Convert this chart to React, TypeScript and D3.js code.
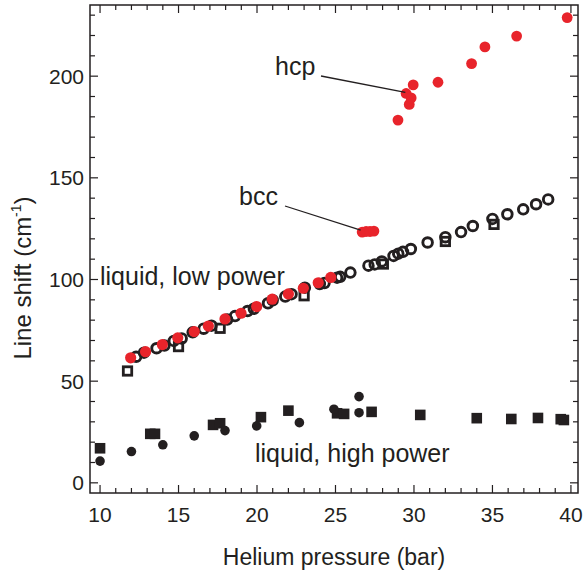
import React from "react";
import * as d3 from "d3";

// ---- data (pressure in bar, line shift in cm^-1) ----
const hcpPoints: [number, number][] = [
  [28.98, 178.4], [29.5, 191.5], [29.7, 186.1], [29.82, 189.3], [29.95, 195.7],
  [31.53, 197.0], [33.67, 206.2], [34.52, 214.4], [36.54, 219.7], [39.76, 228.8],
];
const bccPoints: [number, number][] = [
  [26.7, 123.3], [26.95, 123.6], [27.2, 123.6], [27.45, 123.8],
];
const redLowPower: [number, number][] = [
  [11.95, 61.5], [12.9, 64.5], [13.97, 68.0], [14.95, 71.3], [16.0, 74.4],
  [16.9, 77.1], [17.96, 80.6], [18.98, 83.4], [19.98, 86.7], [20.97, 90.3],
  [22.0, 92.9], [22.95, 95.7], [23.9, 98.4], [24.7, 101.0],
];
const openCircleLowPower: [number, number][] = [
  [12.3, 62.0], [12.8, 64.0], [13.6, 66.2], [14.1, 67.5], [14.7, 69.8],
  [15.2, 71.0], [15.9, 74.0], [16.6, 75.8], [17.1, 77.3], [18.1, 80.3],
  [18.6, 82.0], [19.4, 84.5], [19.8, 85.6], [20.7, 88.3], [21.0, 89.8],
  [21.8, 91.6], [22.2, 92.8], [23.05, 96.0], [24.0, 97.8], [24.3, 98.3],
  [25.1, 100.9], [25.3, 101.3], [25.95, 103.4], [27.1, 106.8], [27.5, 107.4],
  [27.95, 108.9], [28.7, 111.6], [29.0, 112.7], [29.3, 113.6], [29.8, 115.0],
  [30.87, 118.2], [32.0, 120.8], [33.0, 123.3], [33.75, 126.3], [35.0, 129.8],
  [35.95, 132.1], [36.96, 134.5], [37.78, 137.0], [38.55, 139.4],
];
const openSquareLowPower: [number, number][] = [
  [11.75, 55.0], [15.0, 67.0], [17.65, 76.0], [23.0, 92.0],
  [28.05, 107.6], [32.0, 118.7], [35.1, 127.1],
];
const filledSquareHighPower: [number, number][] = [
  [10.0, 17.0], [13.2, 24.1], [13.5, 24.1], [17.2, 28.5], [17.65, 29.3],
  [20.25, 32.3], [22.0, 35.5], [25.1, 34.2], [25.55, 33.9], [27.3, 34.9],
  [30.4, 33.4], [34.0, 31.8], [36.2, 31.4], [37.9, 31.9], [39.35, 31.3], [39.55, 30.9],
];
const filledCircleHighPower: [number, number][] = [
  [10.0, 10.7], [12.0, 15.4], [14.0, 18.7], [16.0, 23.1], [17.96, 25.7],
  [19.98, 28.0], [22.7, 29.6], [24.9, 36.2], [26.5, 42.4], [26.5, 34.5],
];
const xTickValues = [10, 15, 20, 25, 30, 35, 40];
const yTickValues = [0, 50, 100, 150, 200];

const W = 583, H = 573;
const L = 90, R = 578, T = 5, B = 493;
const INK = "#231f20";
const RED = "#e8242b";
const FONT = "'Liberation Sans', Arial, Helvetica, sans-serif";

export default function App() {
  const x = d3.scaleLinear().domain([9.36, 40.45]).range([L, R]);
  const y = d3.scaleLinear().domain([-5, 235]).range([B, T]);

  const xMinor = d3.range(10, 41, 1);
  const yMinor = d3.range(0, 231, 10);

  const ticks: JSX.Element[] = [];
  xMinor.forEach((v) => {
    const len = v % 5 === 0 ? 8 : 5;
    const px = x(v);
    ticks.push(<line key={"xb" + v} x1={px} x2={px} y1={B} y2={B - len} stroke={INK} strokeWidth={1.2} />);
    ticks.push(<line key={"xt" + v} x1={px} x2={px} y1={T} y2={T + len} stroke={INK} strokeWidth={1.2} />);
  });
  yMinor.forEach((v) => {
    const len = v % 50 === 0 ? 8 : 5;
    const py = y(v);
    ticks.push(<line key={"yl" + v} x1={L} x2={L + len} y1={py} y2={py} stroke={INK} strokeWidth={1.2} />);
    ticks.push(<line key={"yr" + v} x1={R} x2={R - len} y1={py} y2={py} stroke={INK} strokeWidth={1.2} />);
  });

  return (
    <div style={{ position: "absolute", left: 0, top: 0 }}>
      <svg width={W} height={H} style={{ display: "block", background: "#fff" }} fontFamily={FONT}>
        <rect x={0} y={0} width={W} height={H} fill="#fff" />
        {ticks}
        <rect x={L} y={T} width={R - L} height={B - T} fill="none" stroke={INK} strokeWidth={1.5} />

        {xTickValues.map((v) => (
          <text key={"xl" + v} x={x(v)} y={522} textAnchor="middle" fontSize={21} fill={INK}>{v}</text>
        ))}
        {yTickValues.map((v) => (
          <text key={"ylab" + v} x={84} y={y(v) + 7.5} textAnchor="end" fontSize={21} fill={INK}>{v}</text>
        ))}

        <text x={334} y={565} textAnchor="middle" fontSize={23} fill={INK}>Helium pressure (bar)</text>
        <text transform={`translate(31,278) rotate(-90)`} textAnchor="middle" fontSize={24} fill={INK}>
          Line shift (cm<tspan fontSize={14} dy={-10}>-1</tspan><tspan dy={10}>)</tspan>
        </text>

        {/* high power */}
        {filledSquareHighPower.map(([p, v], i) => (
          <rect key={"fs" + i} x={x(p) - 5.3} y={y(v) - 5.3} width={10.6} height={10.6} fill={INK} />
        ))}
        {filledCircleHighPower.map(([p, v], i) => (
          <circle key={"fc" + i} cx={x(p)} cy={y(v)} r={4.8} fill={INK} />
        ))}

        {/* low power */}
        {openCircleLowPower.map(([p, v], i) => (
          <circle key={"oc" + i} cx={x(p)} cy={y(v)} r={4.8} fill="none" stroke={INK} strokeWidth={2.9} />
        ))}
        {openSquareLowPower.map(([p, v], i) => (
          <rect key={"os" + i} x={x(p) - 4.2} y={y(v) - 4.2} width={8.4} height={8.4} fill="none" stroke={INK} strokeWidth={2.8} />
        ))}
        {redLowPower.map(([p, v], i) => (
          <circle key={"rl" + i} cx={x(p)} cy={y(v)} r={5.6} fill={RED} />
        ))}
        {bccPoints.map(([p, v], i) => (
          <circle key={"bcc" + i} cx={x(p)} cy={y(v)} r={5.4} fill={RED} />
        ))}
        {hcpPoints.map(([p, v], i) => (
          <circle key={"hcp" + i} cx={x(p)} cy={y(v)} r={5.4} fill={RED} />
        ))}

        {/* annotations */}
        <line x1={321} y1={76} x2={x(29.45)} y2={y(191.5) - 1} stroke={INK} strokeWidth={1.3} />
        <line x1={285} y1={206} x2={x(26.6)} y2={y(123.3) - 2} stroke={INK} strokeWidth={1.3} />
        <text x={275} y={75} fontSize={25} fill={INK}>hcp</text>
        <text x={239} y={205} fontSize={25} fill={INK}>bcc</text>
        <text x={100} y={285} fontSize={25} fill={INK}>liquid, low power</text>
        <text x={255} y={462} fontSize={25} fill={INK}>liquid, high power</text>
      </svg>
    </div>
  );
}
